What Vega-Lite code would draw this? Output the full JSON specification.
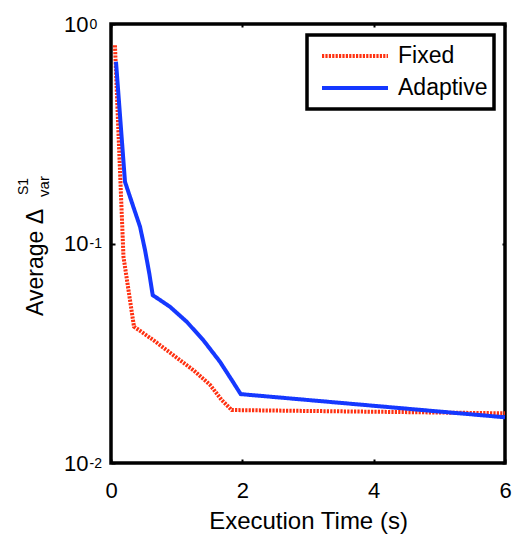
{
  "$schema": "https://vega.github.io/schema/vega-lite/v6.json",
  "width": 394,
  "height": 439,
  "autosize": "none",
  "padding": {"left": 111, "top": 24, "right": 9, "bottom": 73},
  "background": "white",
  "data": {
    "values": [
      {"series": "Fixed", "time": 0.06, "delta": 0.80},
      {"series": "Fixed", "time": 0.19, "delta": 0.087},
      {"series": "Fixed", "time": 0.35, "delta": 0.0418},
      {"series": "Fixed", "time": 0.645, "delta": 0.0363},
      {"series": "Fixed", "time": 0.949, "delta": 0.0310},
      {"series": "Fixed", "time": 1.253, "delta": 0.0265},
      {"series": "Fixed", "time": 1.508, "delta": 0.0227},
      {"series": "Fixed", "time": 1.686, "delta": 0.01936},
      {"series": "Fixed", "time": 1.838, "delta": 0.01743},
      {"series": "Fixed", "time": 6.0, "delta": 0.01684},
      {"series": "Adaptive", "time": 0.076, "delta": 0.673},
      {"series": "Adaptive", "time": 0.213, "delta": 0.191},
      {"series": "Adaptive", "time": 0.34, "delta": 0.147},
      {"series": "Adaptive", "time": 0.442, "delta": 0.1193},
      {"series": "Adaptive", "time": 0.518, "delta": 0.0934},
      {"series": "Adaptive", "time": 0.583, "delta": 0.0731},
      {"series": "Adaptive", "time": 0.635, "delta": 0.0582},
      {"series": "Adaptive", "time": 0.898, "delta": 0.0515},
      {"series": "Adaptive", "time": 1.153, "delta": 0.0440},
      {"series": "Adaptive", "time": 1.405, "delta": 0.0363},
      {"series": "Adaptive", "time": 1.66, "delta": 0.0289},
      {"series": "Adaptive", "time": 1.838, "delta": 0.0239},
      {"series": "Adaptive", "time": 1.975, "delta": 0.0206},
      {"series": "Adaptive", "time": 6.0, "delta": 0.01615}
    ]
  },
  "layer": [
    {
      "transform": [{"filter": "datum.series === 'Fixed'"}],
      "mark": {"type": "line", "strokeWidth": 4, "strokeCap": "butt"},
      "encoding": {
        "x": {
          "field": "time", "type": "quantitative",
          "scale": {"domain": [0, 6], "nice": false, "zero": false},
          "axis": {
            "orient": "bottom", "values": [0, 2, 4, 6], "format": "d",
            "labelFontSize": 22, "tickSize": -4, "tickWidth": 2, "labelPadding": 21,
            "labelFlush": false, "labelOverlap": false,
            "title": "Execution Time (s)", "titleFontSize": 24,
            "titleX": 197, "titleY": 65, "titleBaseline": "alphabetic", "titleAlign": "center"
          }
        },
        "y": {
          "field": "delta", "type": "quantitative",
          "scale": {"type": "log", "domain": [0.01, 1], "nice": false},
          "axis": {
            "orient": "left", "values": [0.01, 0.1, 1], "labelExpr": "'10'",
            "labelFontSize": 22, "tickSize": -4, "tickWidth": 2, "labelPadding": 27,
            "labelBaseline": "middle", "labelDy": 2.5, "labelAlign": "right",
            "labelFlush": false, "labelOverlap": false,
            "title": "Average Δ", "titleFontSize": 23, "titleAngle": 270,
            "titleX": -69, "titleY": 238, "titleBaseline": "alphabetic", "titleAlign": "center"
          }
        },
        "color": {
          "field": "series", "type": "nominal",
          "scale": {"domain": ["Fixed", "Adaptive"], "range": ["#ff3010", "#1538ff"]},
          "legend": {"title": null}
        },
        "strokeDash": {
          "field": "series", "type": "nominal",
          "scale": {"domain": ["Fixed", "Adaptive"], "range": [[2.2, 1.2], [1, 0]]},
          "legend": {"title": null}
        }
      }
    },
    {
      "transform": [{"filter": "datum.series === 'Adaptive'"}],
      "mark": {"type": "line", "strokeWidth": 4, "strokeCap": "butt"},
      "encoding": {
        "x": {
          "field": "time", "type": "quantitative",
          "axis": {"orient": "top", "values": [0, 2, 4, 6], "labels": false, "tickSize": -3, "tickWidth": 2, "title": null}
        },
        "y": {
          "field": "delta", "type": "quantitative",
          "axis": {
            "orient": "left", "values": [0.01, 0.1, 1],
            "labelExpr": "datum.value > 0.5 ? '0' : datum.value > 0.05 ? '-1' : '-2'",
            "ticks": false, "labelAlign": "left", "labelPadding": 22, "labelFontSize": 14,
            "labelBaseline": "middle", "labelDy": -8.5, "labelFlush": false, "labelOverlap": false,
            "title": "S1", "titleFontSize": 14, "titleAngle": 270,
            "titleX": -84, "titleY": 162, "titleBaseline": "alphabetic", "titleAlign": "center"
          }
        },
        "color": {"field": "series", "type": "nominal", "legend": {"title": null}},
        "strokeDash": {"field": "series", "type": "nominal", "legend": {"title": null}}
      }
    },
    {
      "transform": [{"filter": "datum.series === 'Adaptive'"}],
      "mark": {"type": "line", "strokeWidth": 1, "opacity": 0},
      "encoding": {
        "x": {"field": "time", "type": "quantitative", "axis": null},
        "y": {
          "field": "delta", "type": "quantitative",
          "axis": {
            "orient": "right", "values": [0.01, 0.1, 1], "labels": false,
            "tickSize": -3, "tickWidth": 2,
            "title": "var", "titleFontSize": 15, "titleAngle": 270,
            "titleX": -457, "titleY": 162, "titleBaseline": "alphabetic", "titleAlign": "center"
          }
        }
      }
    }
  ],
  "resolve": {"axis": {"x": "independent", "y": "independent"}},
  "config": {
    "view": {"stroke": "black", "strokeWidth": 3.5},
    "axis": {
      "domain": false, "grid": false,
      "labelFont": "Liberation Sans", "titleFont": "Liberation Sans",
      "labelColor": "black", "titleColor": "black", "tickColor": "black",
      "titleFontWeight": "normal", "labelFontWeight": "normal"
    },
    "legend": {
      "orient": "none", "legendX": 196, "legendY": 11,
      "symbolType": "stroke", "symbolSize": 4356, "symbolStrokeWidth": 4,
      "labelFont": "Liberation Sans", "labelFontSize": 23, "labelColor": "black",
      "labelOffset": 8, "padding": 6, "symbolOffset": 7,
      "clipHeight": 30, "rowPadding": 2,
      "strokeColor": "black", "strokeWidth": 3.5, "fillColor": "white"
    }
  }
}
